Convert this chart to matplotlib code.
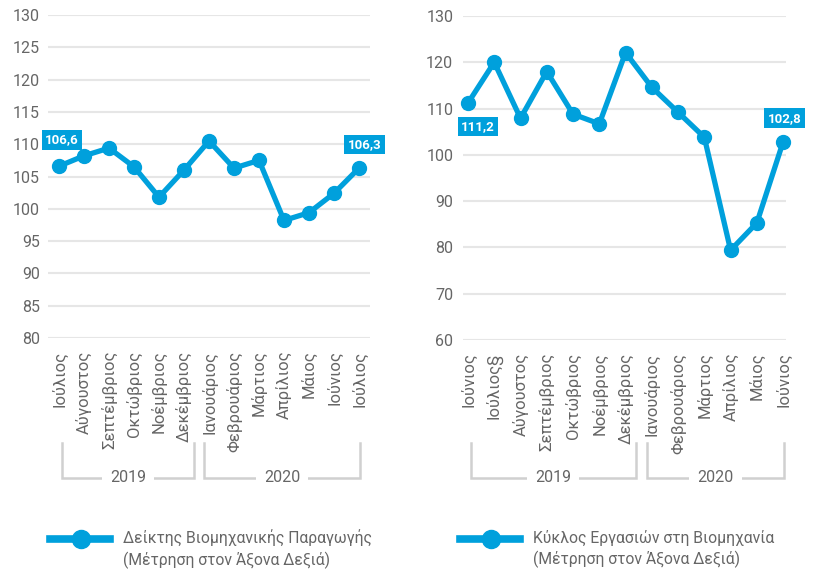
import matplotlib.pyplot as plt
import matplotlib.transforms as mtransforms
from matplotlib.lines import Line2D

plt.rcParams['font.family'] = ['Roboto', 'DejaVu Sans']

# δεδομένα - αριστερό διάγραμμα
months_left = ['Ιούλιος', 'Αύγουστος', 'Σεπτέμβριος', 'Οκτώβριος', 'Νοέμβριος', 'Δεκέμβριος',
               'Ιανουάριος', 'Φεβρουάριος', 'Μάρτιος', 'Απρίλιος', 'Μάιος', 'Ιούνιος', 'Ιούλιος']
values_left = [106.6, 108.2, 109.4, 106.5, 101.8, 106.0, 110.5, 106.3, 107.5, 98.2, 99.4, 102.4, 106.3]
years_left = ['2019'] * 6 + ['2020'] * 7
label_left = 'Δείκτης Βιομηχανικής Παραγωγής\n(Μέτρηση στον Άξονα Δεξιά)'

# δεδομένα - δεξί διάγραμμα
months_right = ['Ιούνιος', 'Ιούλιος§', 'Αύγουστος', 'Σεπτέμβριος', 'Οκτώβριος', 'Νοέμβριος', 'Δεκέμβριος',
                'Ιανουάριος', 'Φεβρουάριος', 'Μάρτιος', 'Απρίλιος', 'Μάιος', 'Ιούνιος']
values_right = [111.2, 120.0, 107.9, 118.0, 108.8, 106.7, 122.1, 114.6, 109.2, 103.8, 79.4, 85.3, 102.8]
years_right = ['2019'] * 7 + ['2020'] * 6
label_right = 'Κύκλος Εργασιών στη Βιομηχανία\n(Μέτρηση στον Άξονα Δεξιά)'

blue = '#00A0DC'
grey_txt = '#666666'
W, H = 814, 575

fig = plt.figure(figsize=(W / 100, H / 100), dpi=100)


def make_axes(x0, x1, y0, y1):
    return fig.add_axes([x0 / W, 1 - y1 / H, (x1 - x0) / W, (y1 - y0) / H])


def draw(ax, months, values, years, ylim, yticks, xlim, ypad, notes, label, leg_x):
    x = list(range(len(values)))
    ax.plot(x, values, color=blue, lw=3.8, marker='o', ms=10, zorder=3, clip_on=False)
    ax.set_xlim(*xlim)
    ax.set_ylim(*ylim)
    ax.set_yticks(yticks)
    ax.set_xticks(x)
    ax.set_xticklabels(months, rotation=90, va='top', ha='center')
    ax.tick_params(axis='both', length=0, labelcolor=grey_txt)
    ax.tick_params(axis='y', labelsize=11.5, pad=ypad)
    ax.tick_params(axis='x', labelsize=12, pad=9)
    ax.grid(axis='y', color='#e6e6e6', lw=1.5)
    ax.set_axisbelow(True)
    for s in ax.spines.values():
        s.set_visible(False)

    # ετικέτες τιμών
    for i, dx, dy in notes:
        ax.annotate(f'{values[i]:.1f}'.replace('.', ','), (x[i], values[i]),
                    xytext=(dx, dy), textcoords='offset points', ha='center', va='center',
                    color='white', fontsize=9.5, fontweight='bold', zorder=5,
                    bbox=dict(boxstyle='square,pad=0.25', fc=blue, ec='none'))

    # αγκύλες ετών
    tr = mtransforms.blended_transform_factory(ax.transData, fig.transFigure)
    y_top, y_bot = 1 - 443 / H, 1 - 478 / H
    groups = []
    for i, y in enumerate(years):
        if not groups or groups[-1][0] != y:
            groups.append([y, i, i])
        else:
            groups[-1][2] = i
    for k, (y, a, b) in enumerate(groups):
        if k == 0:
            xa, xb = a + 0.1, b + 0.4
        else:
            xa, xb = a - 0.2, b + 0.05
        ax.plot([xa, xa, xb, xb], [y_top, y_bot, y_bot, y_top], transform=tr,
                color='#d0d0d0', lw=1.8, clip_on=False, solid_joinstyle='miter')
        ax.text((xa + xb) / 2, y_bot, y, transform=tr, ha='center', va='center',
                fontsize=11.5, color=grey_txt,
                bbox=dict(boxstyle='square,pad=0.5', fc='white', ec='none'))

    # υπόμνημα
    ly = 1 - 539 / H
    fig.add_artist(Line2D([leg_x / W, (leg_x + 60) / W], [ly, ly], color=blue, lw=5.5))
    fig.add_artist(Line2D([(leg_x + 31) / W], [ly], color=blue, marker='o', ms=13))
    fig.text((leg_x + 73) / W, 1 - 549 / H, label, ha='left', va='center',
             fontsize=11.3, color=grey_txt, linespacing=1.4)


ax1 = make_axes(48, 370, 15, 338)
draw(ax1, months_left, values_left, years_left, (80, 130), list(range(80, 131, 5)),
     (-0.44, 12.44), 6, [(0, 2, 19), (12, 4, 17)], label_left, 50)

ax2 = make_axes(463, 786, 16, 340)
draw(ax2, months_right, values_right, years_right, (60, 130), list(range(60, 131, 10)),
     (-0.19, 12.11), 7, [(0, 7, -17), (12, 1, 17)], label_right, 460)

fig.savefig('out.png', dpi=100)
